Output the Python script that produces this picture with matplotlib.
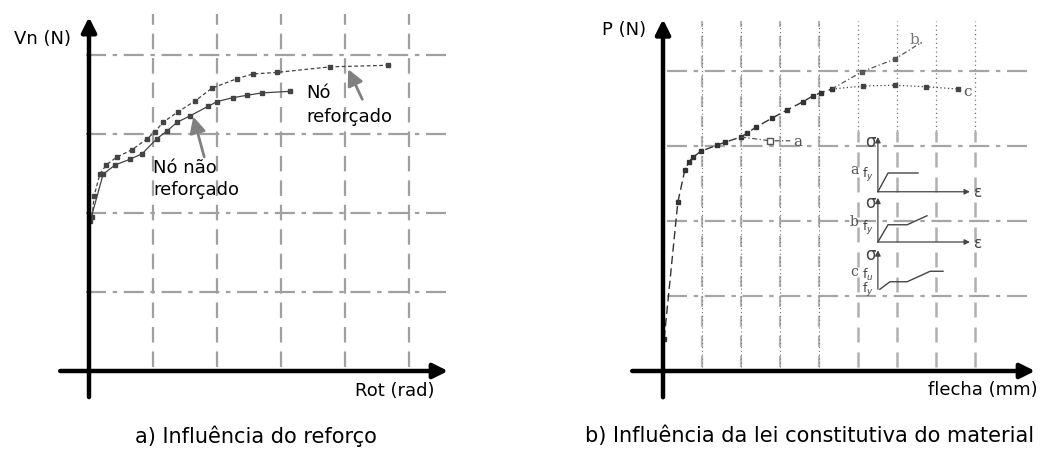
import matplotlib
matplotlib.use("Agg")
import matplotlib.pyplot as plt

# ---- data (grid units) ----
# a) Influencia do reforco
reforcado_x = [0.05, 0.08, 0.17, 0.27, 0.44, 0.67, 0.91, 1.03, 1.16, 1.39, 1.66, 1.92, 2.31, 2.56, 2.94, 3.77, 4.67]
reforcado_y = [1.95, 2.22, 2.49, 2.61, 2.71, 2.80, 2.94, 3.03, 3.15, 3.28, 3.42, 3.58, 3.70, 3.76, 3.78, 3.85, 3.87]
nao_reforcado_x = [0.02, 0.22, 0.41, 0.64, 0.83, 1.06, 1.22, 1.38, 1.58, 1.86, 2.00, 2.25, 2.47, 2.70, 3.14]
nao_reforcado_y = [1.90, 2.49, 2.61, 2.68, 2.75, 2.94, 3.04, 3.15, 3.23, 3.35, 3.41, 3.46, 3.49, 3.52, 3.54]

# b) Influencia da lei constitutiva
base_x = [0.03, 0.38, 0.56, 0.67, 0.77, 0.97, 1.38, 1.59, 2.00, 2.15, 2.38, 2.79, 3.18, 3.59, 3.85, 4.05, 4.33]
base_y = [0.43, 2.25, 2.68, 2.79, 2.85, 2.93, 3.01, 3.05, 3.12, 3.17, 3.25, 3.37, 3.48, 3.59, 3.67, 3.71, 3.76]
curve_a_x = [2.00, 2.74, 3.26]
curve_a_y = [3.12, 3.07, 3.07]
curve_b_x = [4.33, 5.10, 5.95, 6.59]
curve_b_y = [3.76, 3.99, 4.16, 4.37]
curve_c_x = [4.33, 5.13, 5.95, 6.74, 7.56]
curve_c_y = [3.76, 3.80, 3.81, 3.79, 3.76]

# small stress-strain sketches (sigma x epsilon)
law_a_x = [5.51, 5.77, 6.54]
law_a_y = [2.39, 2.64, 2.64]
law_b_x = [5.51, 5.77, 6.26, 6.77]
law_b_y = [1.72, 1.95, 1.95, 2.07]
law_c_x = [5.56, 5.82, 6.26, 6.85, 7.18]
law_c_y = [1.09, 1.19, 1.19, 1.33, 1.33]

W, H = 1047, 456
FONT = "DejaVu Sans"


def axis_arrow(ax, start, end):
    ax.annotate("", xy=end, xytext=start,
                arrowprops=dict(arrowstyle="-|>", color="black", lw=3.2,
                                mutation_scale=22, shrinkA=0, shrinkB=0))


def gray_arrow(ax, start, end):
    ax.annotate("", xy=end, xytext=start,
                arrowprops=dict(arrowstyle="-|>", color="#808080", lw=2.0,
                                mutation_scale=24, shrinkA=0, shrinkB=0))


def make_axes(fig, x0, x1, y0, y1, ox, oy, ux, uy):
    """axes covering pixel box, data unit = grid step, origin at (ox, oy) px"""
    ax = fig.add_axes([x0 / W, 1 - y1 / H, (x1 - x0) / W, (y1 - y0) / H])
    ax.set_xlim((x0 - ox) / ux, (x1 - ox) / ux)
    ax.set_ylim((oy - y1) / uy, (oy - y0) / uy)
    ax.axis("off")
    return ax


fig = plt.figure(figsize=(W / 100, H / 100), dpi=100)

# ---------------- panel a ----------------
ax1 = make_axes(fig, 0, 520, 0, 410, 89, 372, 64, 79)
for gx in range(1, 6):
    ax1.plot([gx, gx], [0.05, 4.52], color="#a0a0a0", lw=1.6, dashes=(7, 4), zorder=1)
for gy in range(1, 5):
    ax1.plot([-0.05, 5.61], [gy, gy], color="#a0a0a0", lw=1.6, dashes=(9, 3, 2, 3), zorder=1)

ax1.plot(reforcado_x, reforcado_y, color="#444444", lw=0.9, dashes=(3, 2),
         marker="s", ms=2.5, zorder=3)
ax1.plot(nao_reforcado_x, nao_reforcado_y, color="#444444", lw=0.9,
         marker="s", ms=2.5, zorder=3)

axis_arrow(ax1, (0, -0.33), (0, 4.48))
axis_arrow(ax1, (-0.45, 0), (5.61, 0))
ax1.text(-0.73, 4.22, "Vn (N)", ha="center", va="center", fontsize=13, family=FONT)
ax1.text(4.78, -0.24, "Rot (rad)", ha="center", va="center", fontsize=13, family=FONT)

ax1.text(1.0, 2.44, "Nó não\nreforçado", ha="left", va="center", fontsize=13,
         family=FONT, linespacing=1.25)
ax1.text(3.39, 3.38, "Nó\nreforçado", ha="left", va="center", fontsize=13,
         family=FONT, linespacing=1.45)
gray_arrow(ax1, (1.80, 2.71), (1.63, 3.22))
gray_arrow(ax1, (4.27, 3.44), (4.05, 3.82))

# ---------------- panel b ----------------
ax2 = make_axes(fig, 520, 1047, 0, 410, 663, 372, 39, 75)
for gx in range(1, 9):
    if gx <= 4:
        ax2.plot([gx, gx], [0.05, 4.67], color="#b5b5b5", lw=1.6, dashes=(5, 4), zorder=1)
        ax2.plot([gx, gx], [0.05, 4.67], color="#777777", lw=0.8, dashes=(1, 2.5), zorder=1)
    else:
        ax2.plot([gx, gx], [3.2, 4.67], color="#777777", lw=0.9, dashes=(1, 2.5), zorder=1)
        ax2.plot([gx, gx], [0.05, 3.2], color="#b0b0b0", lw=1.8, dashes=(6, 4), zorder=1)
for gy in range(1, 5):
    ax2.plot([0.1, 9.36], [gy, gy], color="#a5a5a5", lw=1.6, dashes=(9, 3, 2, 3), zorder=1)

ax2.plot(base_x, base_y, color="#333333", lw=1.0, dashes=(6, 3),
         marker="s", ms=3.5, zorder=3)
ax2.plot(curve_a_x, curve_a_y, color="#555555", lw=0.9, dashes=(4, 2, 1, 2), zorder=3)
ax2.plot(curve_a_x[1], curve_a_y[1], marker="s", ms=4, mfc="white", mec="#555555", zorder=4)
ax2.plot(curve_b_x, curve_b_y, color="#555555", lw=0.9, dashes=(4, 2, 1, 2),
         marker="s", ms=3, markevery=[1, 2], zorder=3)
ax2.plot(curve_c_x, curve_c_y, color="#444444", lw=0.9, dashes=(1, 2),
         marker="s", ms=3, markevery=[1, 2, 3, 4], zorder=3)
ax2.text(3.46, 3.07, "a", ha="center", va="center", fontsize=11, color="#555555", family="DejaVu Serif")
ax2.text(6.51, 4.43, "b.", ha="center", va="center", fontsize=11, color="#777777", family="DejaVu Serif")
ax2.text(7.80, 3.73, "c", ha="center", va="center", fontsize=11, color="#555555", family="DejaVu Serif")

# constitutive law sketches
sk = dict(color="#444444", lw=1.0)
for law_x, law_y, lab, ylab, top, has_eps in [
        (law_a_x, law_a_y, "a", 2.69, 3.12, True),
        (law_b_x, law_b_y, "b", 2.00, 2.31, True),
        (law_c_x, law_c_y, "c", 1.33, 1.61, False)]:
    y0 = law_y[0]
    ax2.annotate("", xy=(5.51, top), xytext=(5.51, y0),
                 arrowprops=dict(arrowstyle="-|>", color="#444444", lw=0.9,
                                 mutation_scale=8, shrinkA=0, shrinkB=0))
    if has_eps:
        ax2.annotate("", xy=(7.87, y0), xytext=(5.51, y0),
                     arrowprops=dict(arrowstyle="-|>", color="#444444", lw=0.9,
                                     mutation_scale=8, shrinkA=0, shrinkB=0))
        ax2.text(8.07, y0, "ε", ha="center", va="center", fontsize=11, color="#444444")
    ax2.plot(law_x, law_y, **sk)
    ax2.text(5.31, top - 0.05, "σ", ha="center", va="center", fontsize=12, color="#444444")
    ax2.text(4.90, ylab, lab, ha="center", va="center", fontsize=10, color="#555555",
             family="DejaVu Serif")

ax2.text(5.26, 2.62, "f$_y$", ha="center", va="center", fontsize=9, color="#444444")
ax2.text(5.26, 1.92, "f$_y$", ha="center", va="center", fontsize=9, color="#444444")
ax2.text(5.26, 1.30, "f$_u$", ha="center", va="center", fontsize=9, color="#444444")
ax2.text(5.26, 1.09, "f$_y$", ha="center", va="center", fontsize=9, color="#444444")

axis_arrow(ax2, (0, -0.35), (0, 4.69))
axis_arrow(ax2, (-0.79, 0), (9.54, 0))
ax2.text(-1.0, 4.56, "P (N)", ha="center", va="center", fontsize=13, family=FONT)
ax2.text(8.2, -0.24, "flecha (mm)", ha="center", va="center", fontsize=13, family=FONT)

# captions
fig.text(256 / W, 1 - 436 / H, "a) Influência do reforço", ha="center", va="center",
         fontsize=15, family=FONT)
fig.text(810 / W, 1 - 436 / H, "b) Influência da lei constitutiva do material",
         ha="center", va="center", fontsize=15, family=FONT)

fig.savefig("out.png", dpi=100)
